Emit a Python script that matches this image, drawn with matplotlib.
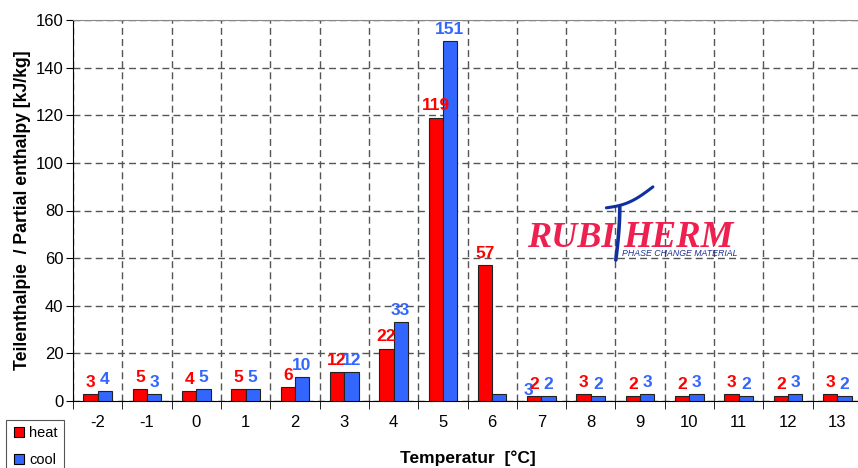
import matplotlib.pyplot as plt
from matplotlib.lines import Line2D
import numpy as np

plt.rcParams['font.family'] = ['Liberation Sans', 'DejaVu Sans']

# data
temps = ['-2', '-1', '0', '1', '2', '3', '4', '5', '6', '7', '8', '9', '10', '11', '12', '13']
heat = [3, 5, 4, 5, 6, 12, 22, 119, 57, 2, 3, 2, 2, 3, 2, 3]
cool = [4, 3, 5, 5, 10, 12, 33, 151, 3, 2, 2, 3, 3, 2, 3, 2]

red = '#FF0000'
blue = '#3366FF'
grid_col = '#555555'

fig = plt.figure(figsize=(8.58, 4.68), dpi=100)
ax = fig.add_axes([73 / 858, 67 / 468, 789 / 858, 381 / 468])

x = np.arange(len(temps))
w = 0.29
ax.bar(x - w / 2, heat, w, color=red, edgecolor='#222222', linewidth=0.8, zorder=3)
ax.bar(x + w / 2, cool, w, color=blue, edgecolor='#222222', linewidth=0.8, zorder=3)

# value labels
for i in range(len(temps)):
    ax.annotate(str(heat[i]), (x[i] - w / 2, heat[i]), xytext=(0, 3), textcoords='offset points',
                ha='center', va='bottom', color=red, fontsize=12.5, fontweight='bold', zorder=4)
    dx = 0
    dy = 3
    if i == 8:
        # the label of this bar sits shifted in the original
        dx = 21
        dy = -3
    ax.annotate(str(cool[i]), (x[i] + w / 2, cool[i]), xytext=(dx, dy), textcoords='offset points',
                ha='center', va='bottom', color=blue, fontsize=12.5, fontweight='bold', zorder=4)

ax.set_xlim(-0.5, len(temps) - 0.5)
ax.set_ylim(0, 160)
ax.set_yticks(np.arange(0, 161, 20))
ax.set_xticks(x)
ax.set_xticklabels(temps)
ax.set_xticks(np.arange(-0.5, len(temps), 1), minor=True)
ax.tick_params(axis='x', which='major', length=0, labelsize=12, pad=10)
ax.tick_params(axis='x', which='minor', length=6, direction='out', color='black')
ax.tick_params(axis='y', length=5, direction='out', labelsize=12, pad=2)

ax.grid(axis='y', which='major', color=grid_col, linestyle=(0, (5, 3)), linewidth=1, zorder=0)
ax.grid(axis='x', which='minor', color=grid_col, linestyle=(0, (5, 3)), linewidth=1, zorder=0)

ax.spines['right'].set_visible(False)
ax.spines['top'].set_color('#888888')
ax.spines['left'].set_color('black')
ax.spines['bottom'].set_color('black')

ax.set_ylabel('Teilenthalpie  / Partial enthalpy [kJ/kg]', fontsize=12.7, fontweight='bold', labelpad=3)
ax.set_xlabel('Temperatur  [°C]', fontsize=12.5, fontweight='bold', labelpad=15)

# logo
ax.text(0.575, 0.404, 'RUBI', transform=ax.transAxes, fontsize=26, fontweight='bold', style='italic',
        family='Liberation Serif', color='#EE2050', ha='left', va='baseline')
ax.text(0.697, 0.404, 'HERM', transform=ax.transAxes, fontsize=26.5, fontweight='bold', style='italic',
        family='Liberation Serif', color='#EE2050', ha='left', va='baseline')
ax.text(0.696, 0.381, 'PHASE CHANGE MATERIAL', transform=ax.transAxes, fontsize=6.3, style='italic',
        color='#203090', ha='left', va='baseline')
t = np.linspace(0, 1, 30)
stem_x = 0.688 + 0.005 * np.sin(np.pi * t * 0.5)
stem_y = 0.37 + 0.14 * t
ax.plot(stem_x, stem_y, transform=ax.transAxes, color='#1030A0', linewidth=2.6, solid_capstyle='round', zorder=5)
sw_x = 0.676 + 0.059 * t
sw_y = 0.507 - 0.012 * np.sin(np.pi * t) + 0.055 * t
ax.plot(sw_x, sw_y, transform=ax.transAxes, color='#1030A0', linewidth=2.2, solid_capstyle='round', zorder=5)

handles = [Line2D([], [], linestyle='none', marker='s', markersize=6.5, markerfacecolor=red,
                  markeredgecolor='black', markeredgewidth=0.8),
           Line2D([], [], linestyle='none', marker='s', markersize=6.5, markerfacecolor=blue,
                  markeredgecolor='black', markeredgewidth=0.8)]
leg = fig.legend(handles, ['heat', 'cool'], loc='upper left', bbox_to_anchor=(6 / 858, 1 - 420 / 468),
                 borderaxespad=0, fontsize=10.5, handlelength=1.0, handletextpad=0.2,
                 labelspacing=0.9, borderpad=0.4, fancybox=False, framealpha=1, edgecolor='#555555')
leg.get_frame().set_linewidth(0.8)

fig.savefig('out.png', dpi=100)
